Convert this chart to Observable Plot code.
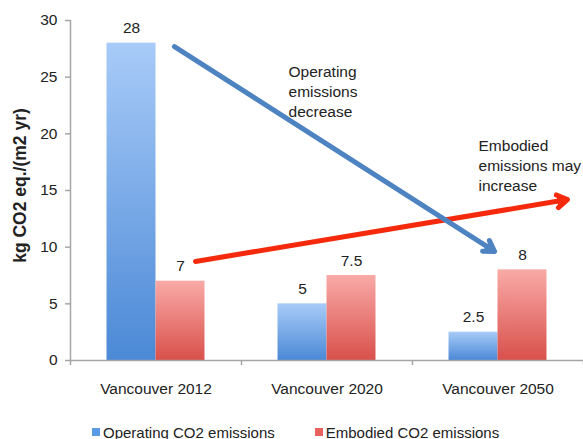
<!DOCTYPE html>
<html><head><meta charset="utf-8">
<script src="https://cdn.jsdelivr.net/npm/d3@7"></script>
<script src="https://cdn.jsdelivr.net/npm/@observablehq/plot@0.6"></script>
<style>
body{margin:0;background:#fff;font-family:"Liberation Sans",Arial,sans-serif;}
.lg-swatches{font-family:"Liberation Sans",Arial,sans-serif !important;font-size:15px !important;color:#222;margin:0 !important;min-height:34px !important;padding-left:92px;}
.lg-swatch{margin-right:40px !important;}
.lg-swatch > svg{margin-right:3px !important;}
</style></head><body><div id="chart"></div>
<script>
// ---- data ----
const categories = ["Vancouver 2012", "Vancouver 2020", "Vancouver 2050"];
const series = ["Operating CO2 emissions", "Embodied CO2 emissions"];
const operating = [28, 5, 2.5];
const embodied = [7, 7.5, 8];
const yTicks = [0, 5, 10, 15, 20, 25, 30];
const yLabel = "kg CO2 eq./(m2 yr)";
// annotation arrows and notes (data units: x = category index, y = kg CO2)
const operatingTrend = [{x1: 0.608, y1: 27.7, x2: 2.48, y2: 9.62}];
const embodiedTrend = [{x1: 0.731, y1: 8.74, x2: 2.906, y2: 14.2}];
const notes = [
  {text: "Operating\nemissions\ndecrease", x: 1.275, y: 26.3},
  {text: "Embodied\nemissions may\nincrease", x: 2.386, y: 19.7}
];

// ---- derived tables ----
const rows = categories.flatMap((c, i) => [
  {category: c, i, series: series[0], value: operating[i]},
  {category: c, i, series: series[1], value: embodied[i]}
]);
const barW = 0.2865;
const boundaries = d3.range(categories.length + 1);
const centers = categories.map((_, i) => i + 0.5);

const defs = () => {
  const g = d3.create("svg:defs");
  const mk = (id, top, bottom) => {
    const lg = g.append("linearGradient").attr("id", id).attr("x1", 0).attr("y1", 0).attr("x2", 0).attr("y2", 1);
    lg.append("stop").attr("offset", "0%").attr("stop-color", top);
    lg.append("stop").attr("offset", "100%").attr("stop-color", bottom);
  };
  mk("gBlue", "#a8cbf8", "#4b89d6");
  mk("gRed", "#f9aaa7", "#d9504b");
  return g.node();
};

const axisColor = "#a6a6a6";
const redArrow = "#f52a0c", blueArrow = "#4e83c1";
const chart = Plot.plot({
  width: 583, height: 415,
  marginLeft: 70, marginRight: 0, marginTop: 20, marginBottom: 55,
  style: {fontFamily: "'Liberation Sans', Arial, sans-serif", fontSize: "15.5px", color: "#222", background: "white"},
  x: {domain: [0, categories.length], axis: null},
  y: {domain: [0, 30], axis: null},
  marks: [
    defs,
    Plot.rectY(rows.filter(d => d.series === series[0]), {
      x1: d => d.i + 0.5 - barW, x2: d => d.i + 0.5, y: "value", fill: "url(#gBlue)"
    }),
    Plot.rectY(rows.filter(d => d.series === series[1]), {
      x1: d => d.i + 0.5, x2: d => d.i + 0.5 + barW, y: "value", fill: "url(#gRed)"
    }),
    Plot.ruleX([0], {stroke: axisColor, strokeWidth: 1.5}),
    Plot.ruleY([0], {stroke: axisColor, strokeWidth: 1.5}),
    Plot.axisY({ticks: yTicks, tickSize: 5, tickPadding: 8, stroke: axisColor, strokeWidth: 1.5, label: null, fontSize: 15.5}),
    Plot.axisX({ticks: boundaries, tickSize: 5, tickFormat: () => "", stroke: axisColor, strokeWidth: 1.5, label: null}),
    Plot.axisX({ticks: centers, tickSize: 0, tickPadding: 22, tickFormat: v => categories[Math.floor(v)], label: null, fontSize: 15.5}),
    Plot.text(rows, {
      x: d => d.i + 0.5 + (d.series === series[0] ? -barW / 2 : barW / 2),
      y: "value", text: d => String(d.value), lineAnchor: "bottom", dy: -10, fontSize: 15.5
    }),
    Plot.arrow(embodiedTrend, {x1: "x1", y1: "y1", x2: "x2", y2: "y2", stroke: redArrow, fill: redArrow, strokeWidth: 5, headLength: 3.6, headAngle: 64, strokeLinejoin: "miter"}),
    Plot.arrow(operatingTrend, {x1: "x1", y1: "y1", x2: "x2", y2: "y2", stroke: blueArrow, fill: blueArrow, strokeWidth: 5, headLength: 3.6, headAngle: 64, strokeLinejoin: "miter"}),
    Plot.text(notes, {x: "x", y: "y", text: "text", textAnchor: "start", lineAnchor: "top", lineHeight: 1.29, fontSize: 15.5}),
    Plot.text([yLabel], {frameAnchor: "left", textAnchor: "middle", lineAnchor: "middle", rotate: -90, dx: -50, dy: -5, fontWeight: "bold", fontSize: 17.5, text: d => d})
  ]
});

const legend = Plot.legend({
  color: {type: "categorical", domain: series, range: ["#5b9be6", "#e8625e"]},
  swatchSize: 8, className: "lg"
});

const root = document.getElementById("chart");
root.append(chart);
root.append(legend);
</script></body></html>
